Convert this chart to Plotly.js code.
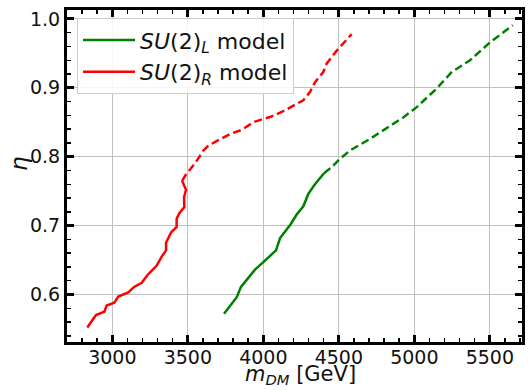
<!DOCTYPE html>
<html>
<head>
<meta charset="utf-8">
<script src="https://cdn.plot.ly/plotly-3.0.1.min.js"></script>
<style>html,body{margin:0;padding:0;background:#fff;}#chart{width:532px;height:390px;}</style>
</head>
<body>
<div id="chart"></div>
<script>
// SU(2)_R model, solid part
const redSolidX = [2834, 2892, 2947, 2963, 3013, 3040, 3106, 3144, 3195, 3232, 3294, 3327, 3356, 3356, 3389, 3426, 3426, 3444, 3477, 3475, 3488, 3462];
const redSolidY = [0.552, 0.570, 0.575, 0.584, 0.588, 0.597, 0.603, 0.611, 0.617, 0.628, 0.642, 0.655, 0.664, 0.675, 0.690, 0.698, 0.710, 0.718, 0.727, 0.741, 0.752, 0.765];
// SU(2)_R model, dashed part
const redDashX = [3462, 3490, 3510, 3559, 3603, 3636, 3702, 3780, 3857, 3934, 4000, 4050, 4132, 4200, 4265, 4309, 4342, 4397, 4419, 4486, 4585];
const redDashY = [0.765, 0.775, 0.780, 0.794, 0.809, 0.816, 0.824, 0.833, 0.839, 0.850, 0.855, 0.858, 0.866, 0.874, 0.882, 0.894, 0.908, 0.923, 0.935, 0.954, 0.978];
// SU(2)_L model, solid part
const greenSolidX = [3740, 3824, 3852, 3945, 4000, 4084, 4111, 4181, 4221, 4265, 4298, 4342, 4402];
const greenSolidY = [0.572, 0.596, 0.611, 0.636, 0.647, 0.664, 0.682, 0.702, 0.716, 0.728, 0.746, 0.760, 0.776];
// SU(2)_L model, dashed part
const greenDashX = [4402, 4453, 4503, 4574, 4707, 4828, 4927, 5016, 5148, 5248, 5369, 5501, 5652];
const greenDashY = [0.776, 0.785, 0.796, 0.809, 0.826, 0.843, 0.857, 0.872, 0.899, 0.923, 0.940, 0.966, 0.991];

const seriesNames = ['<i>SU</i>(2)<sub><i>L</i></sub> model', '<i>SU</i>(2)<sub><i>R</i></sub> model'];
const xTicks = [3000, 3500, 4000, 4500, 5000, 5500];
const yTicks = [0.6, 0.7, 0.8, 0.9, 1.0];
const xTitle = '<i>m</i><sub><i>DM</i></sub> [GeV]';
const yTitle = '<i>η</i>';

const font = '"DejaVu Sans", sans-serif';
const traces = [
  {x: greenSolidX, y: greenSolidY, mode: 'lines', name: seriesNames[0], line: {color: 'green', width: 2.5}, legendrank: 1},
  {x: greenDashX, y: greenDashY, mode: 'lines', showlegend: false, line: {color: 'green', width: 2.5, dash: '8px,4px'}},
  {x: redSolidX, y: redSolidY, mode: 'lines', name: seriesNames[1], line: {color: 'red', width: 2.5}, legendrank: 2},
  {x: redDashX, y: redDashY, mode: 'lines', showlegend: false, line: {color: 'red', width: 2.5, dash: '8px,4px'}}
];

const axisCommon = {
  showline: true, linecolor: 'black', linewidth: 3, mirror: 'allticks',
  ticks: 'inside', ticklen: 7, tickwidth: 3, tickcolor: 'black',
  showgrid: true, gridcolor: '#c0c0c0', gridwidth: 1, zeroline: false,
  tickfont: {family: font, size: 19, color: '#111'}
};

const layout = {
  width: 532, height: 390,
  margin: {l: 67, r: 10, t: 10, b: 48},
  paper_bgcolor: '#fff', plot_bgcolor: '#fff',
  font: {family: font, color: '#111'},
  xaxis: Object.assign({}, axisCommon, {
    range: [2700, 5713], tickvals: xTicks, ticktext: xTicks.map(String),
    ticklabelstandoff: -4,
    minor: {dtick: 100, tick0: 0, ticks: 'inside', ticklen: 4, tickwidth: 1.5, tickcolor: 'black', showgrid: false}
  }),
  yaxis: Object.assign({}, axisCommon, {
    range: [0.531, 1.013], tickvals: yTicks, ticktext: yTicks.map(v => v.toFixed(1)),
    minor: {dtick: 0.02, tick0: 0, ticks: 'inside', ticklen: 4, tickwidth: 1.5, tickcolor: 'black', showgrid: false}
  }),
  annotations: [
    {text: xTitle, xref: 'paper', yref: 'paper', x: (300 - 67) / 455, y: -(390 - 342) / 332,
     xanchor: 'center', yanchor: 'bottom', showarrow: false, font: {family: font, size: 21, color: '#111'}},
    {text: yTitle, xref: 'paper', yref: 'paper', x: -(67 - 19) / 455, y: (342 - 164) / 332,
     xanchor: 'center', yanchor: 'middle', textangle: -90, showarrow: false, font: {family: font, size: 23, color: '#111'}}
  ],
  legend: {
    x: 0.022, y: 0.975, xanchor: 'left', yanchor: 'top',
    bgcolor: 'rgba(255,255,255,0.85)', bordercolor: '#cccccc', borderwidth: 1,
    itemwidth: 52,
    font: {family: font, size: 22, color: '#111'}
  },
  showlegend: true
};

Plotly.newPlot('chart', traces, layout, {staticPlot: true, displayModeBar: false});
</script>
</body>
</html>
